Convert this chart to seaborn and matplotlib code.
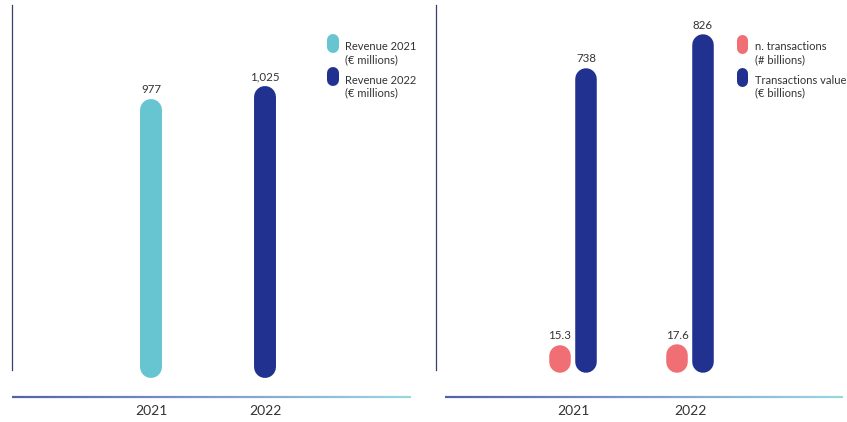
import matplotlib
matplotlib.use("Agg")
import matplotlib.pyplot as plt
import numpy as np
import pandas as pd
import seaborn as sns
from matplotlib.collections import LineCollection
from matplotlib.lines import Line2D
from matplotlib.colors import LinearSegmentedColormap

# ---- data -------------------------------------------------------------
years = ["2021", "2022"]
revenue = [977, 1025]                       # € millions
n_transactions = [15.3, 17.6]               # # billions
transactions_value = [738, 826]             # € billions

revenue_legend = ["Revenue 2021\n(€ millions)", "Revenue 2022\n(€ millions)"]
right_legend = ["n. transactions\n(# billions)", "Transactions value\n(€ billions)"]

TEAL = "#67C5D1"
NAVY = "#213190"
PINK = "#EF6F74"
TEXT = "#333333"

sns.set_theme(style="white")
plt.rcParams["font.family"] = ["Lato", "DejaVu Sans"]

W, H = 847, 422
fig = plt.figure(figsize=(W / 100, H / 100), dpi=100)


def px_axes(x0, y0, x1, y1):
    return fig.add_axes([x0 / W, 1 - y1 / H, (x1 - x0) / W, (y1 - y0) / H])


def fx(x):
    return x / W


def fy(y):
    return 1 - y / H


def pill_bars(ax, lw):
    """Turn the seaborn bars into rounded pills."""
    out = []
    for p in list(ax.patches):
        if p.get_height() == 0 and p.get_width() == 0:
            continue
        xc = p.get_x() + p.get_width() / 2
        h = p.get_height()
        col = p.get_facecolor()
        ax.plot([xc, xc], [0, h], color=col, lw=lw, solid_capstyle="round",
                zorder=3)
        out.append((xc, h))
        p.remove()
    return out


def style_axes(ax, xlim, ylim, spine_bottom):
    ax.set_xlim(*xlim)
    ax.set_ylim(*ylim)
    for s in ("top", "right", "bottom"):
        ax.spines[s].set_visible(False)
    ax.spines["left"].set_color("#3a3f72")
    ax.spines["left"].set_linewidth(0.9)
    ax.spines["left"].set_bounds(spine_bottom, ylim[1])
    ax.set_yticks([])
    ax.set_xlabel("")
    ax.set_ylabel("")
    ax.tick_params(axis="x", length=0, pad=6, labelsize=10, labelcolor=TEXT)
    ax.set_facecolor("none")


def gradient_rule(x0, x1, y):
    cmap = LinearSegmentedColormap.from_list("rule", ["#5261AC", "#7C9CCB", "#9AD6E2"])
    xs = np.linspace(fx(x0), fx(x1), 200)
    segs = [[(xs[i], fy(y)), (xs[i + 1], fy(y))] for i in range(len(xs) - 1)]
    lc = LineCollection(segs, colors=cmap(np.linspace(0, 1, len(segs))),
                        linewidths=1.6, transform=fig.transFigure)
    fig.add_artist(lc)


def legend_block(x_pill, x_text, tops, labels, colors, pill_w):
    for top, lab, col in zip(tops, labels, colors):
        r = pill_w / 2
        fig.add_artist(Line2D([fx(x_pill), fx(x_pill)],
                              [fy(top + r), fy(top + 19 - r)],
                              color=col, lw=pill_w * 0.72,
                              solid_capstyle="round",
                              transform=fig.transFigure))
        first, second = lab.split("\n")
        fig.text(fx(x_text), fy(top + 16.5), first, fontsize=8, color=TEXT,
                 va="baseline", ha="left")
        fig.text(fx(x_text), fy(top + 29.5), second, fontsize=8, color=TEXT,
                 va="baseline", ha="left")


# ---- left panel: revenue ------------------------------------------------
df_rev = pd.DataFrame({"year": years, "revenue": revenue})
axL = px_axes(12, 5, 410, 397)
sns.barplot(data=df_rev, x="year", y="revenue", hue="year",
            palette=[TEAL, NAVY], saturation=1, dodge=False, legend=False,
            ax=axL, width=0.2)
barsL = pill_bars(axL, lw=15.8)
for (xc, h), v in zip(barsL, revenue):
    axL.annotate(f"{v:,}", (xc, h), xytext=(0, 12), textcoords="offset points",
                 ha="center", va="baseline", fontsize=8.3, color=TEXT)
sL = 0.2635                                # px per € million
style_axes(axL, (-(151 - 12) / 114, 1 + (410 - 265) / 114),
           (-(397 - 367) / sL, (367 - 5) / sL), -(370 - 367) / sL)
gradient_rule(12, 411, 397)
legend_block(333, 345, [34, 67], revenue_legend, [TEAL, NAVY], 12)

# ---- right panel: transactions -------------------------------------------
df_tx = pd.DataFrame({
    "year": years * 2,
    "metric": ["n. transactions"] * 2 + ["Transactions value"] * 2,
    "value": n_transactions + transactions_value,
})
axR = px_axes(436, 5, 843, 397)
sns.barplot(data=df_tx, x="year", y="value", hue="metric",
            palette=[PINK, NAVY], saturation=1, dodge=True, legend=False,
            ax=axR, width=0.444)
barsR = pill_bars(axR, lw=15.5)
for xc, h in barsR:
    axR.annotate(f"{h:g}", (xc, h), xytext=(0, 12), textcoords="offset points",
                 ha="center", va="baseline", fontsize=8.3, color=TEXT)
sR = 0.3835                                # px per € billion
style_axes(axR, (-(573 - 436) / 117, 1 + (843 - 690) / 117),
           (-(397 - 362) / sR, (362 - 5) / sR), -(370 - 362) / sR)
gradient_rule(445, 843, 397)
legend_block(742, 755, [34, 67], right_legend, [PINK, NAVY], 11)

fig.savefig("out.png", dpi=100, facecolor="white")
